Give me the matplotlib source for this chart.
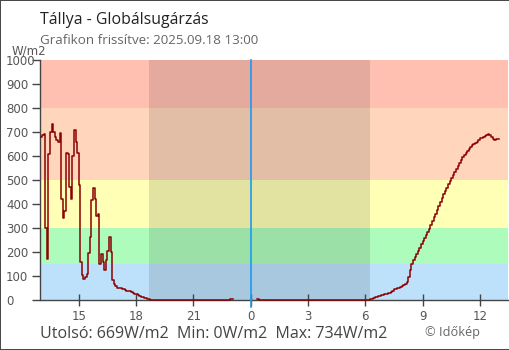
import matplotlib
matplotlib.use("Agg")
import matplotlib.pyplot as plt
from matplotlib.patches import Rectangle
import numpy as np
import pandas as pd

# ---- texts ----
title = "Tállya - Globálsugárzás"
subtitle = "Grafikon frissítve: 2025.09.18 13:00"
unit = "W/m2"
credit = "© Időkép"

# ---- time frame ----
midnight = "2025-09-18 00:00"
view_start = "2025-09-17 13:00"
view_end = "2025-09-18 13:30"
night_start = "2025-09-17 18:41"
night_end = "2025-09-18 06:15"

# ---- measurements (W/m2) ----
# 5-minute readings, afternoon of the previous day (13:00 .. 18:55)
afternoon_start = "2025-09-17 13:00"
afternoon_w = [680, 686, 692, 300, 170, 607, 701, 734, 700, 680,
               665, 660, 694, 420, 340, 370, 611, 607, 472, 420,
               600, 708, 660, 611, 480, 160, 105, 88, 95, 110,
               195, 264, 417, 465, 420, 350, 360, 150, 190, 160,
               125, 165, 205, 262, 200, 85, 68, 58, 50, 49,
               48, 47, 45, 40, 39, 39, 36, 32, 30, 25,
               24, 19, 17, 14, 12, 9, 7, 5, 4, 2,
               1, 1]

# sparse night readings around the data gap
evening_times = ["2025-09-17 19:00", "2025-09-17 22:55", "2025-09-17 23:05"]
evening_w = [0, 3, np.nan]
early_times = ["2025-09-18 00:20", "2025-09-18 00:25"]
early_w = [3, 0]

# 5-minute readings, morning (06:00 .. 13:00)
morning_start = "2025-09-18 06:00"
morning_w = [0, 0, 1, 3, 5, 8, 11, 13, 15, 17,
             21, 22, 24, 27, 28, 29, 33, 36, 44, 46,
             50, 52, 55, 57, 62, 68, 75, 95, 125, 150,
             165, 178, 192, 205, 218, 232, 245, 258, 270, 283,
             296, 312, 328, 345, 360, 375, 392, 408, 424, 440,
             454, 468, 482, 496, 508, 520, 534, 546, 558, 572,
             584, 596, 606, 614, 622, 630, 638, 645, 650, 655,
             660, 666, 674, 676, 680, 684, 688, 690, 688, 678,
             670, 668, 669, 669, 669]

# ---- radiation categories ----
band_edges = [0, 150, 300, 500, 800, 1000]
band_colors = ["#bde1fb", "#adfcbc", "#ffffb5", "#ffd6bc", "#ffc0b1"]

yticks = list(range(0, 1001, 100))
xtick_hours = [15, 18, 21, 0, 3, 6, 9, 12]

# ---- assemble the series ----
t0 = pd.Timestamp(midnight)


def hours(ts):
    return (pd.to_datetime(ts) - t0) / pd.Timedelta(hours=1)


t_aft = pd.date_range(afternoon_start, periods=len(afternoon_w), freq="5min")
t_mor = pd.date_range(morning_start, periods=len(morning_w), freq="5min")
times = np.concatenate([hours(t_aft), hours(evening_times),
                        hours(early_times), hours(t_mor)])
values = np.concatenate([afternoon_w, evening_w, early_w, morning_w]).astype(float)

# ---- figure ----
fig = plt.figure(figsize=(5.1, 3.5), dpi=100)
ax = fig.add_axes([40.5 / 510, 1 - 300 / 350, 468 / 510, 240 / 350])

for lo, hi, c in zip(band_edges[:-1], band_edges[1:], band_colors):
    ax.axhspan(lo, hi, color=c, lw=0, zorder=0)
ax.axvspan(hours(night_start), hours(night_end), color="black", alpha=0.11,
           lw=0, zorder=1)
ax.axvline(0, ymin=-6.5 / 240, ymax=1, color="#1a9cf0", lw=1.2,
           clip_on=False, zorder=3)

ax.plot(times, values, drawstyle="steps-post", color="#8b0000", lw=1.1,
        zorder=4, clip_on=False)

ax.set_xlim(hours(view_start), hours(view_end))
ax.set_ylim(band_edges[0], band_edges[-1])

# axes styling
for s in ("top", "right"):
    ax.spines[s].set_visible(False)
for s in ("left", "bottom"):
    ax.spines[s].set_color("#444444")
    ax.spines[s].set_linewidth(1.0)

xt_pos = [h - 24 if h >= 13 else h for h in xtick_hours]
ax.set_xticks(xt_pos)
ax.set_xticklabels([str(h) for h in xtick_hours])
ax.set_yticks(yticks)
ax.set_yticklabels([str(v) for v in yticks])

ax.tick_params(axis="x", direction="inout", length=8.6, width=1.0,
               color="#444444", labelcolor="#555555", pad=3.0,
               labelsize=8.5)
ax.tick_params(axis="y", direction="out", length=5.5, width=1.0,
               color="#444444", labelcolor="#555555", pad=19.3,
               labelsize=8.5)
for lab in ax.get_yticklabels():
    lab.set_horizontalalignment("left")
    lab.set_family("DejaVu Sans")
for lab in ax.get_xticklabels():
    lab.set_family("DejaVu Sans")
# the midnight tick takes the colour of the midnight marker
ax.get_xticklines()[2 * xt_pos.index(0)].set_color("#1a9cf0")

# ---- texts ----
W, H = 510, 350
fig.text(40 / W, 1 - 24 / H, title, family="Open Sans", fontsize=11.4,
         color="#222222", va="baseline", ha="left")
fig.text(40 / W, 1 - 44.3 / H, subtitle, family="Open Sans", fontsize=9.6,
         color="#666666", va="baseline", ha="left")
fig.text(12 / W, 1 - 55 / H, unit, family="DejaVu Sans", fontsize=8.5,
         color="#555555", va="baseline", ha="left")

last = int(morning_w[-1])
vmin = int(np.nanmin(values))
vmax = int(np.nanmax(values))
summary = f"Utolsó: {last}{unit}  Min: {vmin}{unit}  Max: {vmax}{unit}"
fig.text(40.5 / W, 1 - 338.3 / H, summary, family="Open Sans", fontsize=11.5,
         color="#444444", va="baseline", ha="left")
fig.text(425 / W, 1 - 336 / H, credit, family="Open Sans", fontsize=9.2,
         color="#666666", va="baseline", ha="left")

fig.patches.append(Rectangle((0, 0), 1, 1, transform=fig.transFigure,
                             fill=False, edgecolor="#444444", lw=1.4))

fig.savefig("out.png", dpi=100)
